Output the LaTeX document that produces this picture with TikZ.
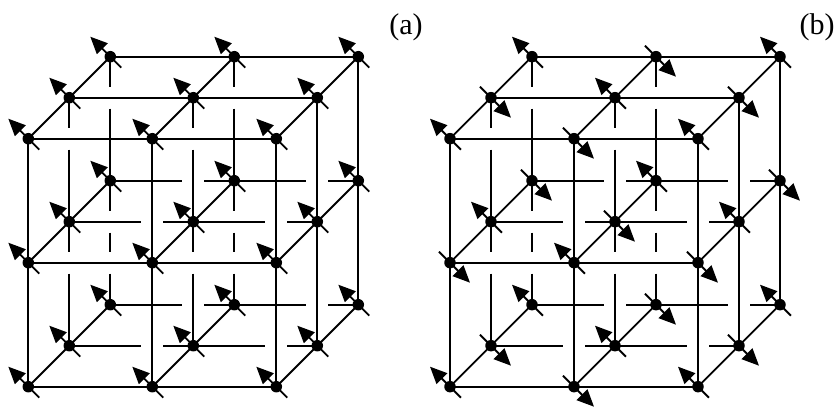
\documentclass[tikz,border=0pt]{standalone}
\usepackage{fontspec}
\setmainfont{Liberation Serif}
\usetikzlibrary{arrows.meta}

\begin{document}
\begin{tikzpicture}[x=1pt,y=1pt,
                    site/.style={circle,fill,inner sep=0pt,minimum size=11.5pt},
                    bond/.style={line width=1.8pt},
                    gapH/.style={bond,dash pattern=on 72pt off 22pt on 102pt off 22pt on 60pt},
                    gapV/.style={bond,dash pattern=on 30pt off 22pt on 102pt off 22pt on 90pt},
                    gapB/.style={bond,dash pattern=on 30pt off 22pt on 102pt off 22pt on 19pt off 22pt on 40pt},
                    spin/.style={line width=1.9pt,-{Triangle[length=17pt,width=15pt]}},
                    panel/.style={font=\fontsize{30}{30}\selectfont}]

  \useasboundingbox (0,0) rectangle (839,412);

  \foreach \l/\ox/\af in {a/28.3/0,b/450/1} {
    % lattice sites
    \foreach \i in {0,1,2}
      \foreach \j in {0,1,2}
        \foreach \k in {0,1,2}
          \node[site] (\l\i\j\k) at ({\ox+124*\i+41*\k},{25.3+124*\j+41*\k}) {};

    % front face and depth bonds
    \foreach \m in {0,1,2} {
      \draw[bond] (\l0\m0.center) -- (\l2\m0.center);
      \draw[bond] (\l\m00.center) -- (\l\m20.center);
      \foreach \n in {0,1,2}
        \draw[bond] (\l\m\n0.center) -- (\l\m\n2.center);
    }

    % inner and back layers, broken where they pass behind
    \foreach \k in {1,2} {
      \draw[bond] (\l02\k.center) -- (\l22\k.center);
      \draw[bond] (\l22\k.center) -- (\l20\k.center);
      \foreach \j in {0,1}
        \draw[gapH] (\l0\j\k.center) -- (\l2\j\k.center);
    }
    \foreach \i in {0,1} {
      \draw[gapV] (\l\i21.center) -- (\l\i01.center);
      \draw[gapB] (\l\i22.center) -- (\l\i02.center);
    }

    % spins
    \foreach \i in {0,1,2}
      \foreach \j in {0,1,2}
        \foreach \k in {0,1,2} {
          \pgfmathtruncatemacro\sg{1-2*\af*mod(\i+\j+\k,2)}
          \draw[spin] ([shift={(11*\sg,-11*\sg)}]\l\i\j\k.center)
                   -- ([shift={(-20*\sg,20*\sg)}]\l\i\j\k.center);
        }
  }

  \node[panel] (ta) at (406,384.5) {(a)};
  \node[panel] (tb) at (817,384.5) {(b)};
\end{tikzpicture}
\end{document}
